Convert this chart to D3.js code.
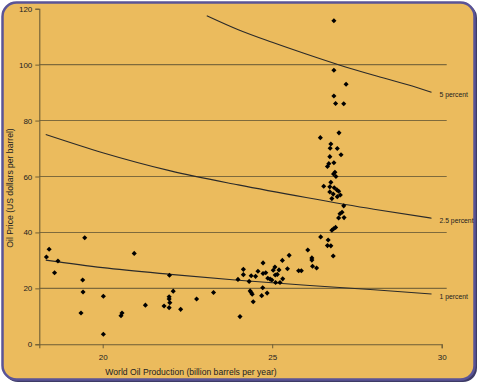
<!DOCTYPE html>
<html>
<head>
<meta charset="utf-8">
<script src="https://cdn.jsdelivr.net/npm/d3@7"></script>
<style>
  body { margin: 0; background: #fff; }
  text { font-family: "Liberation Sans", Arial, sans-serif; fill: #222; }
</style>
</head>
<body>
<div id="chart"></div>
<script>
// scatter: world oil production (billion barrels/yr) vs oil price (US$/barrel)
var production = [18.34, 18.42, 18.58, 18.68, 19.47, 19.41, 19.42, 19.36, 20.02, 20.02,
  20.54, 20.57, 20.93, 21.26, 21.81, 21.96, 21.96, 21.98, 21.96, 22.08,
  21.97, 22.30, 22.77, 23.27, 23.99, 24.05, 24.15, 24.15, 24.32, 24.35,
  24.38, 24.41, 24.44, 24.38, 24.51, 24.58, 24.73, 24.73, 24.81, 24.72,
  24.69, 24.85, 24.87, 24.94, 24.99, 25.03, 25.08, 25.09, 25.15, 25.20,
  25.10, 25.23, 25.31, 25.30, 25.45, 25.50, 25.78, 25.86, 26.05, 26.17,
  26.17, 26.19, 26.31, 26.43, 26.63, 26.73, 26.65, 26.80, 26.76, 26.81,
  26.87, 26.96, 27.12, 27.00, 27.06, 27.11, 26.76, 26.92, 27.01, 26.80,
  26.70, 26.96, 26.91, 26.83, 26.70, 26.52, 26.73, 26.88, 26.81, 26.85,
  26.63, 26.67, 26.82, 26.70, 27.03, 26.71, 26.92, 26.73, 26.42, 26.97,
  26.82, 26.87, 27.11, 27.18, 26.82, 26.82];
var price = [31.2, 34.0, 25.6, 29.8, 38.1, 23.0, 18.7, 11.2, 17.2, 3.6,
  10.2, 11.2, 32.5, 14.0, 13.7, 17.0, 16.2, 14.9, 13.1, 19.0,
  24.7, 12.5, 16.2, 18.5, 23.2, 9.9, 26.8, 24.9, 22.5, 19.1,
  18.5, 17.9, 15.2, 24.5, 24.3, 26.1, 29.1, 25.3, 25.6, 20.2,
  17.4, 18.3, 23.6, 23.3, 23.0, 26.5, 27.6, 24.8, 25.0, 26.6,
  22.1, 22.1, 23.4, 30.0, 27.0, 31.8, 26.3, 26.3, 33.7, 30.9,
  30.1, 27.9, 27.3, 38.4, 35.3, 35.2, 37.3, 31.6, 40.8, 41.3,
  41.8, 45.2, 45.3, 46.7, 47.2, 49.5, 52.1, 52.8, 53.4, 53.7,
  54.5, 54.7, 55.2, 56.0, 56.3, 56.5, 57.9, 60.0, 60.9, 61.5,
  63.6, 64.6, 64.9, 67.1, 67.8, 70.1, 70.0, 71.6, 73.9, 75.6,
  88.8, 86.1, 86.0, 93.0, 98.0, 115.7];

// reference curves
var curve1X = [18.32, 20, 22, 24, 26, 28, 29.7];
var curve1Y = [30.1, 27.4, 25.0, 22.9, 21.1, 19.5, 18.0];
var curve25X = [18.32, 20, 22, 24, 26, 28, 29.7];
var curve25Y = [75.0, 68.5, 62.0, 57.0, 52.5, 48.3, 45.1];
var curve5X = [23.07, 24, 25, 26, 27, 28, 29, 29.7];
var curve5Y = [117.5, 112.5, 108, 103.8, 99.8, 96.2, 92.8, 90.1];
var curveNames = ["1 percent", "2.5 percent", "5 percent"];

var yTicks = [0, 20, 40, 60, 80, 100, 120];
var xTicks = [20, 25, 30];

var W = 480, H = 385;
var margin = {top: 8.7, left: 39.3, right: 38.3, bottom: 40.7};
var width = W - margin.left - margin.right,
    height = H - margin.top - margin.bottom;

var svg = d3.select("#chart").append("svg")
    .attr("width", W).attr("height", H);

// frame
svg.append("rect")
    .attr("x", 4).attr("y", 4).attr("width", 473).attr("height", 378)
    .attr("rx", 14).attr("fill", "#3d3b66");
svg.append("rect")
    .attr("x", 2.5).attr("y", 2.5).attr("width", 472).attr("height", 377)
    .attr("rx", 14).attr("fill", "#ebbb5d")
    .attr("stroke", "#5a5497").attr("stroke-width", 2.5);

var g = svg.append("g")
    .attr("transform", "translate(" + margin.left + "," + margin.top + ")");

var x = d3.scaleLinear().domain([18.13, 30]).range([0, width]);
var y = d3.scaleLinear().domain([0, 120]).range([height, 0]);

// gridlines
g.selectAll(".grid")
    .data(yTicks.filter(function(d) { return d > 0 && d < 120; }))
  .enter().append("line")
    .attr("x1", 0).attr("x2", width + 5)
    .attr("y1", function(d) { return y(d); })
    .attr("y2", function(d) { return y(d); })
    .attr("stroke", "#7e6a3c").attr("stroke-width", 1.1);

// axes
var yAxis = g.append("g")
    .call(d3.axisLeft(y).tickValues(yTicks).tickSize(4).tickPadding(3));
var xAxis = g.append("g")
    .attr("transform", "translate(0," + height + ")")
    .call(d3.axisBottom(x).tickValues(xTicks).tickSize(4).tickPadding(6));
[yAxis, xAxis].forEach(function(a) {
  a.select(".domain").attr("stroke", "#6e5e36").attr("stroke-width", 1.1);
  a.selectAll(".tick line").attr("stroke", "#6e5e36");
  a.selectAll("text").style("font-size", "8px")
    .style("font-family", "'Liberation Sans', Arial, sans-serif").attr("fill", "#222");
});

// curves
var line = d3.line()
    .x(function(d) { return x(d[0]); })
    .y(function(d) { return y(d[1]); })
    .curve(d3.curveMonotoneX);
var curves = [d3.zip(curve1X, curve1Y), d3.zip(curve25X, curve25Y), d3.zip(curve5X, curve5Y)];
curves.forEach(function(c, i) {
  g.append("path").datum(c).attr("d", line)
    .attr("fill", "none").attr("stroke", "#2a2a2a").attr("stroke-width", 1.1);
  var last = c[c.length - 1];
  g.append("text")
    .attr("x", x(last[0]) + 8).attr("y", y(last[1]) + 5)
    .style("font-size", "6.8px")
    .text(curveNames[i]);
});

// points
var diamond = d3.symbol().type(d3.symbolSquare).size(13);
g.selectAll(".pt")
    .data(d3.zip(production, price))
  .enter().append("path")
    .attr("d", diamond)
    .attr("transform", function(d) {
      return "translate(" + x(d[0]) + "," + y(d[1]) + ") rotate(45)";
    })
    .attr("fill", "#000");

// titles
svg.append("text")
    .attr("x", 191).attr("y", 375)
    .attr("text-anchor", "middle")
    .style("font-size", "8.6px")
    .text("World Oil Production (billion barrels per year)");
svg.append("text")
    .attr("transform", "translate(13,188) rotate(-90)")
    .attr("text-anchor", "middle")
    .style("font-size", "8.6px")
    .text("Oil Price (US dollars per barrel)");
</script>
</body>
</html>
